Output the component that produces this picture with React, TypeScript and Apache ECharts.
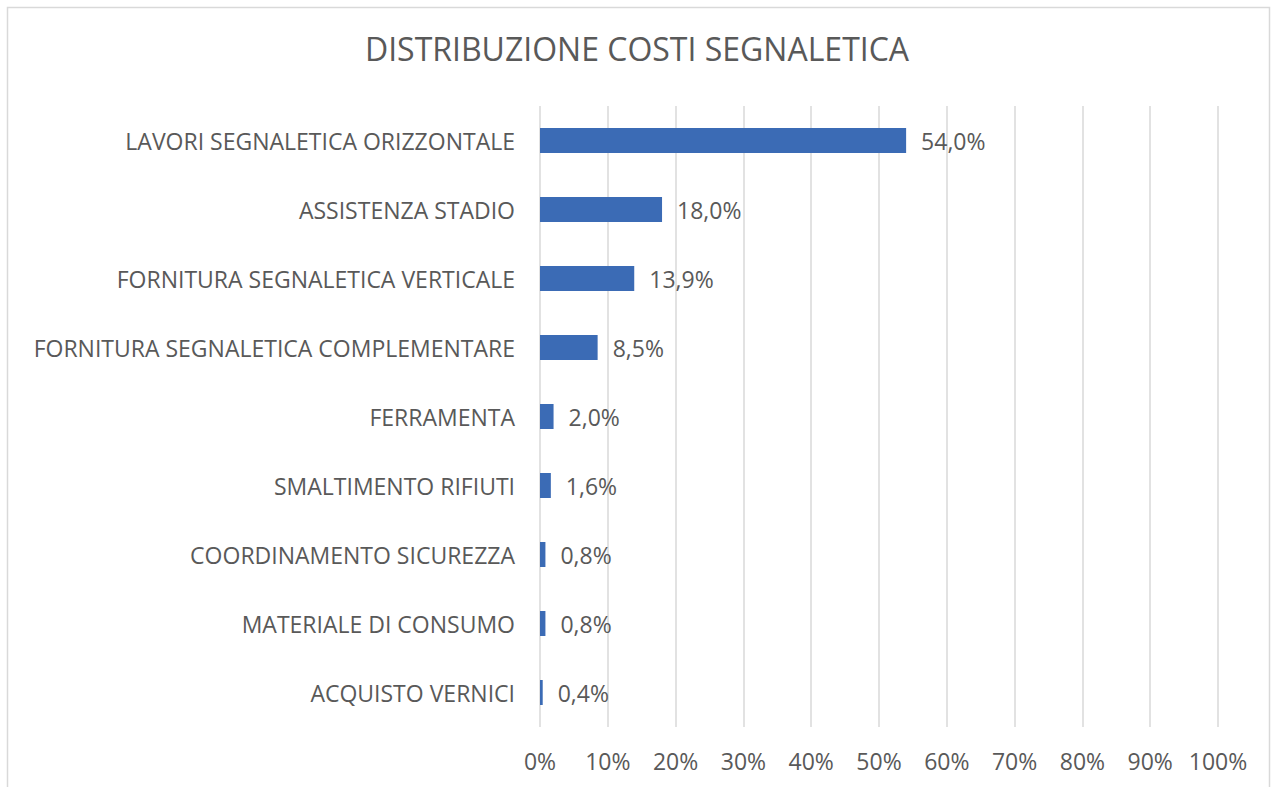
import React, { useEffect, useRef } from "react";
import * as echarts from "echarts";

const titleText = "DISTRIBUZIONE COSTI SEGNALETICA";
const categories = [
  "LAVORI SEGNALETICA ORIZZONTALE",
  "ASSISTENZA STADIO",
  "FORNITURA SEGNALETICA VERTICALE",
  "FORNITURA SEGNALETICA COMPLEMENTARE",
  "FERRAMENTA",
  "SMALTIMENTO RIFIUTI",
  "COORDINAMENTO SICUREZZA",
  "MATERIALE DI CONSUMO",
  "ACQUISTO VERNICI",
];
const values = [54.0, 18.0, 13.9, 8.5, 2.0, 1.6, 0.8, 0.8, 0.4];
const xMin = 0;
const xMax = 100;
const xInterval = 10;

const FONT = "'Open Sans', sans-serif";
const TEXT = "#595959";

export default function App() {
  const ref = useRef<HTMLDivElement>(null);
  useEffect(() => {
    if (!ref.current) return;
    const chart = echarts.init(ref.current, undefined, { renderer: "svg" });
    chart.setOption({
      animation: false,
      backgroundColor: "#ffffff",
      title: {
        text: titleText,
        left: "center",
        top: 27,
        textStyle: { fontFamily: FONT, fontSize: 32, fontWeight: "normal", color: TEXT },
      },
      graphic: [
        {
          type: "rect",
          shape: { x: 7.5, y: 7.5, width: 1262, height: 790 },
          style: { fill: "none", stroke: "#d9d9d9", lineWidth: 1.5 },
          silent: true,
        },
      ],
      grid: { left: 540, right: 56, top: 106, bottom: 60, containLabel: false },
      xAxis: {
        type: "value",
        min: xMin,
        max: xMax,
        interval: xInterval,
        axisLine: { show: false },
        axisTick: { show: false },
        splitLine: { show: true, lineStyle: { color: "#d9d9d9", width: 1.5 } },
        axisLabel: {
          formatter: (v: number) => `${v}%`,
          color: TEXT,
          fontFamily: FONT,
          fontSize: 23,
          margin: 22,
        },
      },
      yAxis: {
        type: "category",
        data: categories,
        inverse: true,
        axisLine: { show: false },
        axisTick: { show: false },
        axisLabel: { color: TEXT, fontFamily: FONT, fontSize: 23, margin: 25 },
      },
      series: [
        {
          type: "bar",
          data: values,
          barWidth: 25,
          itemStyle: { color: "#3b6bb5" },
          label: {
            show: true,
            position: "right",
            distance: 15,
            color: TEXT,
            fontFamily: FONT,
            fontSize: 23,
            formatter: (p: any) => `${Number(p.value).toFixed(1).replace(".", ",")}%`,
          },
        },
      ],
    });
    return () => chart.dispose();
  }, []);
  return (
    <div
      ref={ref}
      style={{ position: "fixed", left: 0, top: 0, width: 1274, height: 787 }}
    />
  );
}
